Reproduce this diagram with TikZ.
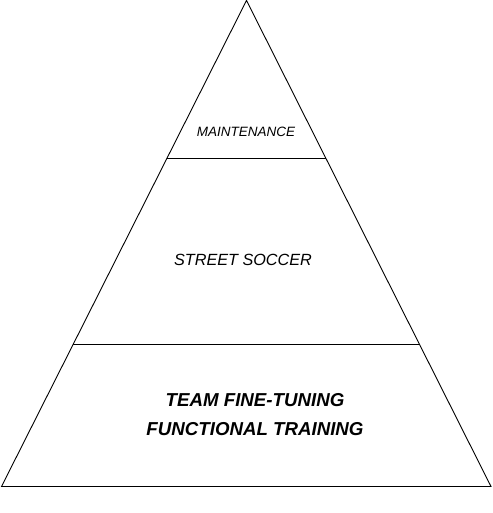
\documentclass[tikz,border=0pt]{standalone}
\usepackage{fontspec}
\setmainfont{Liberation Sans}
\usetikzlibrary{calc}
\tikzstyle{outline} = [draw,line width=0.9pt]
\tikzstyle{levellabel} = [font=\itshape\fontsize{13.5}{16}\selectfont,inner sep=0pt]
\tikzstyle{biglabel} = [font=\bfseries\itshape\fontsize{18.7}{29}\selectfont,align=center,inner sep=0pt]

\begin{document}
\begin{tikzpicture}[x=1pt,y=-1pt]
    \useasboundingbox (0,0) rectangle (492,513);

    \coordinate (apex) at (246.5,0.5);
    \coordinate (left) at (1.5,486.5);
    \coordinate (right) at (491,486.5);

    % pyramid outline
    \path[outline] (apex) -- (left) -- (right) -- cycle;

    % level dividers
    \foreach \name/\frac in {top/0.3244, mid/0.7084}
    {
        \coordinate (\name l) at ($(apex)!\frac!(left)$);
        \coordinate (\name r) at ($(apex)!\frac!(right)$);
        \path[outline] (\name l) -- (\name r);
    }

    \node[levellabel] (maint) at (246,132) {MAINTENANCE};
    \node[levellabel,font=\itshape\fontsize{16.2}{19}\selectfont] (street) at (243,260) {STREET SOCCER};
    \node[biglabel] (team) at (255,415) {TEAM FINE-TUNING\\FUNCTIONAL TRAINING};

\end{tikzpicture}
\end{document}
